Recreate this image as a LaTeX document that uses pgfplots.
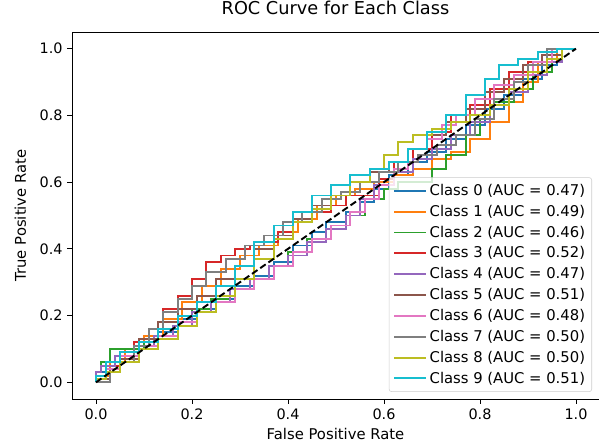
\documentclass[border=0pt]{standalone}
\usepackage{pgfplots}
\pgfplotsset{compat=1.18}
\usepackage{fontspec}
\setmainfont{DejaVu Sans}
\definecolor{tabblue}{HTML}{1F77B4}
\definecolor{taborange}{HTML}{FF7F0E}
\definecolor{tabgreen}{HTML}{2CA02C}
\definecolor{tabred}{HTML}{D62728}
\definecolor{tabpurple}{HTML}{9467BD}
\definecolor{tabbrown}{HTML}{8C564B}
\definecolor{tabpink}{HTML}{E377C2}
\definecolor{tabgray}{HTML}{7F7F7F}
\definecolor{tabolive}{HTML}{BCBD22}
\definecolor{tabcyan}{HTML}{17BECF}
\begin{document}
\begin{tikzpicture}
\path[use as bounding box] (-54pt,-36.75pt) rectangle (395.25pt,299.25pt);
\begin{axis}[
  at={(0,0)}, anchor=south west,
  scale only axis, width=395.25pt, height=275.25pt,
  xmin=-0.05, xmax=1.048, ymin=-0.05, ymax=1.05,
  xtick={0,0.2,0.4,0.6,0.8,1.0}, ytick={0,0.2,0.4,0.6,0.8,1.0},
  xticklabel style={/pgf/number format/.cd, fixed, fixed zerofill, precision=1},
  yticklabel style={/pgf/number format/.cd, fixed, fixed zerofill, precision=1},
  /pgf/number format/assume math mode=true,
  tick align=outside, xtick pos=bottom, ytick pos=left,
  major tick length=3.5pt,
  tick style={black, line width=0.6pt},
  axis line style={black, line width=0.6pt},
  ticklabel style={font=\fontsize{10.8}{12}\selectfont},
  label style={font=\fontsize{11.1}{13}\selectfont},
  xlabel={False Positive Rate}, ylabel={True Positive Rate},
  xlabel style={at={(axis description cs:0.5,-0.1117)}, anchor=base},
  ylabel style={at={(axis description cs:-0.0873,0.5)}, anchor=base},
  title={ROC Curve for Each Class},
  title style={font=\fontsize{13.3}{15}\selectfont, at={(axis description cs:0.5,1.0245)}, anchor=base},
  legend cell align=left,
  legend style={at={(1,0)}, xshift=-5.25pt, yshift=5.25pt, anchor=south east,
    draw=black!20, rounded corners=2pt, fill=white, fill opacity=0.8, text opacity=1,
    font=\fontsize{11.1}{13}\selectfont, row sep=1.7pt, inner sep=3pt},
  legend image code/.code={\draw[#1] (0pt,0pt) -- (24pt,0pt);},
  every axis plot/.append style={line width=1.45pt, const plot mark right},
]
\addplot[tabblue] coordinates {(0,0)(0.02,0.03)(0.05,0.05)(0.09,0.08)(0.13,0.12)(0.17,0.15)(0.21,0.19)(0.25,0.22)(0.29,0.25)(0.33,0.29)(0.37,0.32)(0.41,0.36)(0.45,0.41)(0.48,0.45)(0.52,0.48)(0.55,0.51)(0.58,0.54)(0.61,0.58)(0.65,0.62)(0.69,0.66)(0.73,0.69)(0.77,0.73)(0.81,0.77)(0.85,0.82)(0.89,0.86)(0.93,0.91)(0.96,0.95)(1,1)};
\addlegendentry{Class 0 (AUC = 0.47)}
\addplot[taborange] coordinates {(0,0)(0.03,0.02)(0.06,0.06)(0.1,0.1)(0.14,0.14)(0.18,0.19)(0.22,0.24)(0.26,0.29)(0.3,0.34)(0.34,0.38)(0.38,0.41)(0.42,0.45)(0.46,0.49)(0.5,0.53)(0.54,0.56)(0.58,0.58)(0.62,0.6)(0.66,0.62)(0.7,0.64)(0.74,0.67)(0.78,0.69)(0.82,0.73)(0.86,0.78)(0.89,0.84)(0.92,0.9)(0.96,0.96)(1,1)};
\addlegendentry{Class 1 (AUC = 0.49)}
\addplot[tabgreen] coordinates {(0,0)(0.01,0.03)(0.03,0.06)(0.05,0.1)(0.1,0.1)(0.13,0.12)(0.17,0.16)(0.2,0.2)(0.24,0.22)(0.28,0.25)(0.32,0.28)(0.36,0.31)(0.4,0.35)(0.44,0.39)(0.48,0.43)(0.52,0.46)(0.56,0.5)(0.6,0.55)(0.63,0.58)(0.66,0.6)(0.7,0.6)(0.73,0.64)(0.77,0.68)(0.8,0.74)(0.83,0.79)(0.87,0.84)(0.91,0.88)(0.95,0.93)(1,1)};
\addlegendentry{Class 2 (AUC = 0.46)}
\addplot[tabred] coordinates {(0,0)(0.02,0.02)(0.05,0.05)(0.08,0.09)(0.11,0.12)(0.14,0.16)(0.17,0.22)(0.2,0.26)(0.23,0.31)(0.26,0.36)(0.29,0.38)(0.32,0.4)(0.35,0.41)(0.38,0.42)(0.41,0.45)(0.45,0.48)(0.49,0.51)(0.52,0.53)(0.55,0.56)(0.59,0.56)(0.62,0.61)(0.66,0.66)(0.7,0.7)(0.74,0.75)(0.78,0.8)(0.82,0.83)(0.86,0.88)(0.9,0.93)(0.94,0.96)(1,1)};
\addlegendentry{Class 3 (AUC = 0.52)}
\addplot[tabpurple] coordinates {(0,0)(0.01,0.03)(0.04,0.05)(0.08,0.08)(0.12,0.11)(0.16,0.14)(0.2,0.17)(0.24,0.21)(0.28,0.24)(0.32,0.28)(0.36,0.31)(0.4,0.35)(0.44,0.38)(0.48,0.42)(0.52,0.46)(0.55,0.5)(0.58,0.55)(0.62,0.59)(0.66,0.63)(0.7,0.67)(0.74,0.7)(0.78,0.74)(0.82,0.78)(0.86,0.83)(0.9,0.87)(0.94,0.92)(0.97,0.96)(1,1)};
\addlegendentry{Class 4 (AUC = 0.47)}
\addplot[tabbrown] coordinates {(0,0)(0.03,0.01)(0.05,0.04)(0.09,0.07)(0.13,0.13)(0.17,0.18)(0.21,0.22)(0.25,0.26)(0.29,0.31)(0.33,0.35)(0.37,0.4)(0.41,0.44)(0.45,0.49)(0.49,0.53)(0.53,0.56)(0.57,0.6)(0.61,0.63)(0.65,0.66)(0.69,0.7)(0.73,0.74)(0.77,0.78)(0.81,0.82)(0.85,0.87)(0.89,0.91)(0.93,0.95)(0.97,0.98)(1,1)};
\addlegendentry{Class 5 (AUC = 0.51)}
\addplot[tabpink] coordinates {(0,0)(0.02,0.02)(0.05,0.04)(0.09,0.08)(0.13,0.11)(0.17,0.14)(0.21,0.18)(0.25,0.21)(0.29,0.24)(0.33,0.28)(0.37,0.31)(0.41,0.35)(0.45,0.39)(0.49,0.43)(0.53,0.47)(0.56,0.51)(0.59,0.55)(0.62,0.59)(0.65,0.64)(0.69,0.7)(0.72,0.73)(0.75,0.77)(0.79,0.8)(0.83,0.85)(0.87,0.89)(0.91,0.92)(0.95,0.96)(1,1)};
\addlegendentry{Class 6 (AUC = 0.48)}
\addplot[tabgray] coordinates {(0,0)(0.03,0.0)(0.05,0.03)(0.08,0.06)(0.11,0.11)(0.14,0.16)(0.17,0.21)(0.2,0.25)(0.23,0.29)(0.27,0.33)(0.31,0.37)(0.35,0.41)(0.39,0.44)(0.43,0.48)(0.47,0.51)(0.51,0.55)(0.55,0.57)(0.59,0.6)(0.63,0.63)(0.67,0.66)(0.71,0.68)(0.75,0.71)(0.79,0.74)(0.83,0.79)(0.87,0.85)(0.9,0.9)(0.94,0.95)(1,1)};
\addlegendentry{Class 7 (AUC = 0.50)}
\addplot[tabolive] coordinates {(0,0)(0.02,0.01)(0.05,0.03)(0.09,0.06)(0.13,0.1)(0.17,0.13)(0.21,0.17)(0.25,0.21)(0.29,0.26)(0.33,0.31)(0.37,0.37)(0.41,0.43)(0.45,0.48)(0.49,0.52)(0.53,0.56)(0.57,0.6)(0.6,0.64)(0.63,0.68)(0.66,0.72)(0.7,0.74)(0.74,0.76)(0.78,0.78)(0.82,0.8)(0.86,0.83)(0.9,0.88)(0.94,0.93)(0.97,0.97)(1,1)};
\addlegendentry{Class 8 (AUC = 0.50)}
\addplot[tabcyan] coordinates {(0,0)(0.02,0.02)(0.05,0.06)(0.09,0.09)(0.13,0.12)(0.17,0.16)(0.21,0.2)(0.25,0.24)(0.29,0.29)(0.33,0.35)(0.37,0.42)(0.41,0.47)(0.45,0.51)(0.49,0.56)(0.53,0.59)(0.57,0.62)(0.61,0.64)(0.65,0.66)(0.69,0.7)(0.73,0.75)(0.77,0.8)(0.81,0.86)(0.84,0.91)(0.88,0.95)(0.92,0.97)(0.96,0.99)(1,1)};
\addlegendentry{Class 9 (AUC = 0.51)}
\addplot[black, line width=1.45pt, sharp plot, dash pattern=on 5pt off 2.5pt, forget plot] coordinates {(0,0)(1,1)};
\end{axis}
\end{tikzpicture}
\end{document}
